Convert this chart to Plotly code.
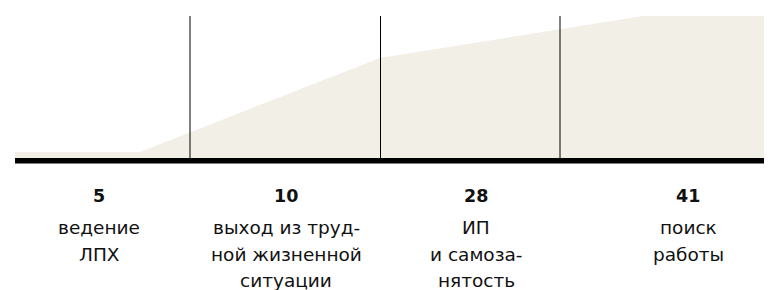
import plotly.graph_objects as go

# --- data ---
values = [5, 10, 28, 41]
labels = [
    ["ведение", "ЛПХ"],
    ["выход из труд-", "ной жизненной", "ситуации"],
    ["ИП", "и самоза-", "нятость"],
    ["поиск", "работы"],
]
# decorative area profile (x in px units along the axis, height in px units)
profile_x = [0, 125, 365, 628, 749]
profile_h = [6, 6, 100, 142, 142]
# column boundaries and label centres (axis units)
boundaries = [175, 365.5, 545]
centres = [84, 271, 461, 673]

AREA = "#F2EFE7"
FONT = "DejaVu Sans, sans-serif"
FS = 18.5
FS_NUM = 17.5

fig = go.Figure()
fig.add_trace(go.Scatter(
    x=profile_x, y=profile_h, mode="lines", fill="tozeroy",
    fillcolor=AREA, line=dict(width=0, color=AREA), hoverinfo="skip",
    showlegend=False,
))

shapes = []
for b in boundaries:
    shapes.append(dict(type="line", xref="x", yref="y", x0=b, x1=b, y0=0, y1=142,
                       line=dict(color="#000", width=1), layer="above"))
shapes.append(dict(type="rect", xref="x", yref="y", x0=0, x1=749, y0=-5.5, y1=0,
                   fillcolor="#000", line=dict(width=0), layer="above"))

# vertical offsets (px below plot bottom) for text rows
row_off = [28, 59, 86, 112]
annotations = []
for c, v, lab in zip(centres, values, labels):
    annotations.append(dict(x=c, y=0, xref="x", yref="paper", text=str(v),
                            showarrow=False, xanchor="center", yanchor="middle",
                            yshift=-row_off[0],
                            font=dict(family=FONT, size=FS_NUM, color="#111", weight=700)))
    for i, line in enumerate(lab):
        annotations.append(dict(x=c, y=0, xref="x", yref="paper", text=line,
                                showarrow=False, xanchor="center", yanchor="middle",
                                yshift=-row_off[i + 1],
                                font=dict(family=FONT, size=FS, color="#111")))

fig.update_layout(
    width=771, height=282,
    margin=dict(l=7, r=15, t=8, b=122),
    paper_bgcolor="white", plot_bgcolor="white",
    xaxis=dict(range=[0, 749], visible=False, fixedrange=True),
    yaxis=dict(range=[-10, 142], visible=False, fixedrange=True),
    shapes=shapes, annotations=annotations,
)
fig.write_html("out.html")
